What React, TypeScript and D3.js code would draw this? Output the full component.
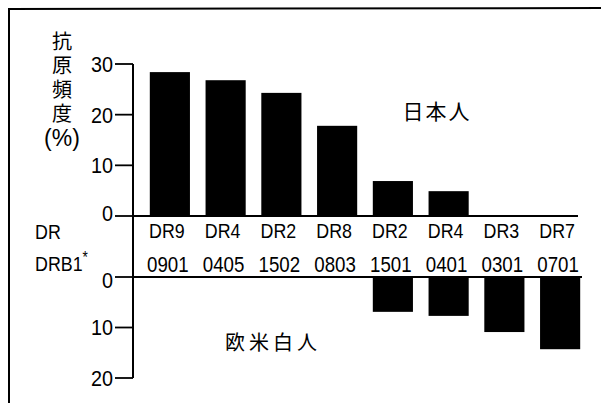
import React from "react";
import * as d3 from "d3";

const drLabels = ["DR9", "DR4", "DR2", "DR8", "DR2", "DR4", "DR3", "DR7"];
const drb1Labels = ["0901", "0405", "1502", "0803", "1501", "0401", "0301", "0701"];
const japanese = [28.4, 26.8, 24.3, 17.8, 6.9, 4.9, 0, 0];
const caucasian = [0, 0, 0, 0, 6.9, 7.7, 10.9, 14.3];
const upperTicks = [0, 10, 20, 30];
const lowerTicks = [0, 10, 20];
const titleText = "抗原頻度";
const titleUnit = "(%)";

const W = 601;
const H = 403;
const latin = "'Liberation Sans', Arial, Helvetica, sans-serif";
const cjk = "'Noto Sans CJK JP', 'Noto Sans CJK SC', sans-serif";

export default function App() {
  const axisX = 133;
  const x = d3
    .scaleBand<number>()
    .domain(d3.range(drLabels.length))
    .range([142, 588])
    .paddingInner(0.28)
    .paddingOuter(0.14);
  const yUp = d3.scaleLinear().domain([0, 30]).range([216, 64]);
  const yDown = d3.scaleLinear().domain([0, 20]).range([277, 378]);
  const bw = x.bandwidth();

  const cond = (cx: number, y: number) => `translate(${cx},${y}) scale(0.85,1)`;

  return (
    <svg
      width={W}
      height={H}
      viewBox={`0 0 ${W} ${H}`}
      style={{ position: "absolute", left: 0, top: 0, background: "#fff" }}
    >
      <rect width={W} height={H} fill="#fff" />
      {/* frame */}
      <line x1={8} y1={9} x2={W} y2={8} stroke="#000" strokeWidth={2} />
      <line x1={9} y1={8} x2={9} y2={H} stroke="#000" strokeWidth={2} />

      {/* y title */}
      <text
        x={62}
        y={31}
        style={{ writingMode: "vertical-rl" as any }}
        fontFamily={cjk}
        fontSize={20}
        letterSpacing={4}
        fill="#000"
      >
        {titleText}
      </text>
      <text
        x={62}
        y={138}
        textAnchor="middle"
        dominantBaseline="central"
        fontFamily={latin}
        fontSize={23}
        fill="#000"
      >
        {titleUnit}
      </text>

      {/* vertical axis */}
      <line x1={axisX} y1={yUp(30)} x2={axisX} y2={yDown(20)} stroke="#000" strokeWidth={2} />

      {/* upper ticks */}
      {upperTicks.map((t) => (
        <g key={"u" + t}>
          <line x1={axisX - 18} y1={yUp(t)} x2={axisX} y2={yUp(t)} stroke="#000" strokeWidth={1.8} />
          <text
            transform={`translate(${axisX - 20},${yUp(t) + (t === 0 ? -3 : 0)}) scale(0.9,1)`}
            textAnchor="end"
            dominantBaseline="central"
            fontFamily={latin}
            fontSize={22}
            fill="#000"
          >
            {t}
          </text>
        </g>
      ))}
      {/* lower ticks */}
      {lowerTicks.map((t) => (
        <g key={"l" + t}>
          <line x1={axisX - 18} y1={yDown(t)} x2={axisX} y2={yDown(t)} stroke="#000" strokeWidth={1.8} />
          <text
            transform={`translate(${axisX - 20},${yDown(t) + (t === 0 ? 3 : 0)}) scale(0.9,1)`}
            textAnchor="end"
            dominantBaseline="central"
            fontFamily={latin}
            fontSize={22}
            fill="#000"
          >
            {t}
          </text>
        </g>
      ))}

      {/* baselines */}
      <line x1={axisX} y1={yUp(0)} x2={x.range()[1] - 10} y2={yUp(0)} stroke="#000" strokeWidth={2} />
      <line x1={axisX} y1={yDown(0)} x2={x.range()[1] - 6} y2={yDown(0)} stroke="#000" strokeWidth={2} />

      {/* upper bars */}
      {japanese.map((v, i) =>
        v > 0 ? (
          <rect key={"j" + i} x={x(i)} y={yUp(v)} width={bw} height={yUp(0) - yUp(v)} fill="#000" />
        ) : null
      )}
      {/* lower bars */}
      {caucasian.map((v, i) =>
        v > 0 ? (
          <rect key={"c" + i} x={x(i)} y={yDown(0)} width={bw} height={yDown(v) - yDown(0)} fill="#000" />
        ) : null
      )}

      {/* category labels */}
      {drLabels.map((l, i) => (
        <text
          key={"dr" + i}
          transform={cond((x(i) as number) + bw / 2 - 3, 238)}
          textAnchor="middle"
          fontFamily={latin}
          fontSize={21}
          fill="#000"
        >
          {l}
        </text>
      ))}
      {drb1Labels.map((l, i) => (
        <text
          key={"drb" + i}
          transform={cond((x(i) as number) + bw / 2 - 2, 272)}
          textAnchor="middle"
          fontFamily={latin}
          fontSize={22}
          fill="#000"
        >
          {l}
        </text>
      ))}

      {/* row labels */}
      <text transform={`translate(35,239) scale(0.85,1)`} fontFamily={latin} fontSize={21} fill="#000">
        DR
      </text>
      <text transform={`translate(35,271) scale(0.85,1)`} fontFamily={latin} fontSize={21} fill="#000">
        DRB1
        <tspan fontSize={16} dy={-8}>*</tspan>
      </text>

      {/* group labels */}
      <text
        x={437}
        y={110}
        textAnchor="middle"
        dominantBaseline="central"
        fontFamily={cjk}
        fontSize={21}
        letterSpacing={2}
        fill="#000"
      >
        日本人
      </text>
      <text
        x={273}
        y={341}
        textAnchor="middle"
        dominantBaseline="central"
        fontFamily={cjk}
        fontSize={20}
        letterSpacing={4}
        fill="#000"
      >
        欧米白人
      </text>
    </svg>
  );
}
